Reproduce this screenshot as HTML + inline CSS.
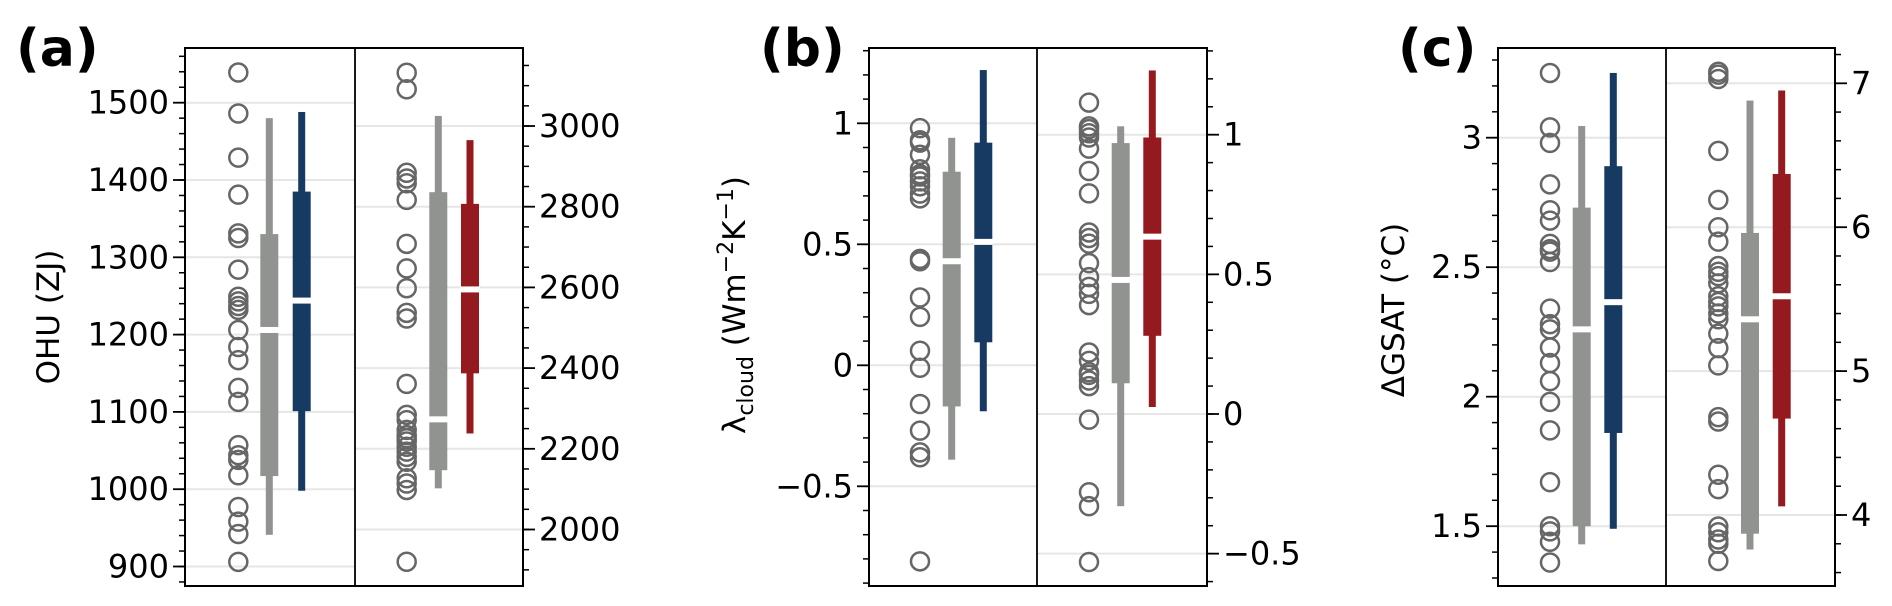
<!DOCTYPE html>
<html><head><meta charset="utf-8"><style>
html,body{margin:0;padding:0;background:#fff;}
svg{display:block;font-family:"DejaVu Sans","Liberation Sans",sans-serif;}
</style></head><body>
<svg id="chart" width="1892" height="606" viewBox="0 0 1892 606" xmlns="http://www.w3.org/2000/svg"></svg>
<script>
// ---- Panel (a): OHU ----
const aLeftCircles = [1539,1486,1429,1381,1331,1325,1284,1249,1243,1237,1232,1206,1184,1167,1131,1113,1057,1044,1038,1018,977,958,942,906];
const aLeftGray = [941,1017,1206,1330,1480];
const aLeftColor = [998,1101,1244,1385,1488];
const aRightCircles = [3132,3091,2884,2870,2858,2817,2708,2647,2598,2537,2523,2361,2284,2271,2247,2234,2226,2218,2205,2193,2180,2168,2127,2114,2098,1920];
const aRightGray = [2102,2147,2273,2836,3025];
const aRightColor = [2238,2387,2595,2807,2965];
const aLeftTicks = [900,1000,1100,1200,1300,1400,1500];
const aRightTicks = [2000,2200,2400,2600,2800,3000];
// ---- Panel (b): lambda cloud ----
const bLeftCircles = [0.98,0.93,0.92,0.87,0.81,0.79,0.78,0.76,0.74,0.71,0.69,0.44,0.43,0.28,0.20,0.06,-0.01,-0.16,-0.27,-0.36,-0.38,-0.81];
const bLeftGray = [-0.39,-0.17,0.43,0.80,0.94];
const bLeftColor = [-0.19,0.095,0.51,0.92,1.22];
const bRightCircles = [1.115,1.03,1.02,1.005,0.99,0.95,0.87,0.79,0.65,0.63,0.61,0.54,0.49,0.455,0.43,0.39,0.22,0.19,0.15,0.14,0.12,0.10,-0.02,-0.28,-0.33,-0.53];
const bRightGray = [-0.33,0.11,0.48,0.97,1.03];
const bRightColor = [0.025,0.28,0.635,0.99,1.23];
const bLeftTicks = [-0.5,0,0.5,1];
const bRightTicks = [-0.5,0,0.5,1];
// ---- Panel (c): dGSAT ----
const cLeftCircles = [3.25,3.04,2.98,2.82,2.72,2.68,2.59,2.57,2.56,2.52,2.34,2.28,2.26,2.19,2.13,2.06,1.98,1.87,1.67,1.50,1.48,1.44,1.36];
const cLeftGray = [1.43,1.50,2.26,2.73,3.045];
const cLeftColor = [1.49,1.86,2.365,2.89,3.25];
const cRightCircles = [7.08,7.06,7.03,6.53,6.19,6.00,5.90,5.73,5.69,5.66,5.61,5.52,5.48,5.45,5.40,5.36,5.26,5.16,5.04,4.68,4.65,4.28,4.18,3.92,3.88,3.83,3.80,3.68];
const cRightGray = [3.76,3.87,5.36,5.96,6.88];
const cRightColor = [4.06,4.67,5.52,6.37,6.95];
const cLeftTicks = [1.5,2,2.5,3];
const cRightTicks = [4,5,6,7];

const NS = "http://www.w3.org/2000/svg";
const svg = document.getElementById('chart');
const TOP = 48, BOT = 586;
const BLUE = '#173a63', RED = '#951a1f', GRAY = '#919391';

function mk(tag, attrs, parent) {
  const e = document.createElementNS(NS, tag);
  for (const k in attrs) e.setAttribute(k, attrs[k]);
  (parent || svg).appendChild(e);
  return e;
}
function linScale(v0, y0, v1, y1) { return v => y0 + (v - v0) * (y1 - y0) / (v1 - v0); }

function fmt(v) { return (v < 0 ? '\u2212' : '') + String(Math.abs(v)); }

function drawPanel(p) {
  const g = mk('g', {});
  
  
  const L = p.x0, M = p.x1, R = p.x2;
  // grids
  p.leftTicks.forEach(t => {
    const y = p.yl(t);
    const ln = mk('line', {x1: L, x2: M, y1: y, y2: y, stroke: '#e6e6e6', 'stroke-width': 2}, g);
    
    
  });
  p.rightTicks.forEach(t => {
    const y = p.yr(t);
    const ln = mk('line', {x1: M, x2: R, y1: y, y2: y, stroke: '#e6e6e6', 'stroke-width': 2}, g);
    
    
  });
  // left axis ticks
  const la = mk('g', {}, g);
  
  
  for (let v = p.lMinorStart; v <= p.lMinorEnd + 1e-9; v += p.lMinor) {
    const y = p.yl(v);
    if (y < TOP - 0.5 || y > BOT + 0.5) continue;
    mk('line', {x1: L - 6, x2: L, y1: y, y2: y, stroke: '#000', 'stroke-width': 1.5}, la);
  }
  p.leftTicks.forEach(t => {
    const y = p.yl(t);
    mk('line', {x1: L - 12, x2: L, y1: y, y2: y, stroke: '#000', 'stroke-width': 1.8}, la);
    const tx = mk('text', {x: L - 16, y: y + 11, 'text-anchor': 'end', 'font-size': 32, fill: '#000'}, la);
    tx.textContent = fmt(t);
  });
  // right axis ticks
  const ra = mk('g', {}, g);
  
  
  for (let v = p.rMinorStart; v <= p.rMinorEnd + 1e-9; v += p.rMinor) {
    const y = p.yr(v);
    if (y < TOP - 0.5 || y > BOT + 0.5) continue;
    mk('line', {x1: R, x2: R + 6, y1: y, y2: y, stroke: '#000', 'stroke-width': 1.5}, ra);
  }
  p.rightTicks.forEach(t => {
    const y = p.yr(t);
    mk('line', {x1: R, x2: R + 12, y1: y, y2: y, stroke: '#000', 'stroke-width': 1.8}, ra);
    const tx = mk('text', {x: R + 16, y: y + 11, 'text-anchor': 'start', 'font-size': 32, fill: '#000'}, ra);
    tx.textContent = fmt(t);
  });
  // data
  function circles(arr, cx, ys, nm) {
    const cg = mk('g', {}, g);
    
    
    arr.forEach(v => {
      const c = mk('circle', {cx: cx, cy: ys(v), r: 9, fill: 'none', stroke: '#666', 'stroke-width': 2.5}, cg);
      
      
    });
  }
  function box(st, cx, ys, col, nm) {
    const bg = mk('g', {}, g);
    
    
    mk('rect', {x: cx - 3.5, y: ys(st[4]), width: 7, height: ys(st[0]) - ys(st[4]), fill: col}, bg);
    mk('rect', {x: cx - 9, y: ys(st[3]), width: 18, height: ys(st[1]) - ys(st[3]), fill: col}, bg);
    mk('rect', {x: cx - 9.5, y: ys(st[2]) - 3, width: 19, height: 6, fill: '#fff'}, bg);
  }
  circles(p.lc, p.lx[0], p.yl, 'left-model-points');
  box(p.lg, p.lx[1], p.yl, GRAY, 'left-gray-box');
  box(p.lk, p.lx[2], p.yl, BLUE, 'left-blue-box');
  circles(p.rc, p.rx[0], p.yr, 'right-model-points');
  box(p.rg, p.rx[1], p.yr, GRAY, 'right-gray-box');
  box(p.rk, p.rx[2], p.yr, RED, 'right-red-box');
  // frame
  mk('rect', {x: L, y: TOP, width: R - L, height: BOT - TOP, fill: 'none', stroke: '#000', 'stroke-width': 2}, g);
  mk('line', {x1: M, x2: M, y1: TOP, y2: BOT, stroke: '#000', 'stroke-width': 1.8}, g);
  // labels
  const pl = mk('text', {x: p.lblX, y: 66, 'font-size': 52, 'font-weight': 'bold', fill: '#000'}, g);
  pl.textContent = p.lbl;
  
  
  const yt = mk('text', {x: 0, y: 0, 'font-size': 31, 'text-anchor': 'middle', fill: '#000', transform: `translate(${p.titleX},${p.titleY}) rotate(-90)`}, g);
  
  
  if (p.title === 'lambda') {
    const t1 = mk('tspan', {}, yt); t1.textContent = 'λ';
    const t2 = mk('tspan', {dy: 8, 'font-size': 22}, yt); t2.textContent = 'cloud';
    const t3 = mk('tspan', {dy: -8}, yt); t3.textContent = ' (Wm';
    const t4 = mk('tspan', {dy: -12, 'font-size': 22}, yt); t4.textContent = '\u22122';
    const t5 = mk('tspan', {dy: 12}, yt); t5.textContent = 'K';
    const t6 = mk('tspan', {dy: -12, 'font-size': 22}, yt); t6.textContent = '\u22121';
    const t7 = mk('tspan', {dy: 12}, yt); t7.textContent = ')';
  } else yt.textContent = p.title;
}

drawPanel({name: 'panel-a-ohu', x0: 185, x1: 355, x2: 523,
  yl: linScale(1500, 102.7, 1000, 489.2), yr: linScale(3000, 126, 2000, 529.5),
  leftTicks: aLeftTicks, rightTicks: aRightTicks,
  lMinor: 20, lMinorStart: 860, lMinorEnd: 1580, rMinor: 50, rMinorStart: 1850, rMinorEnd: 3200,
  lc: aLeftCircles, lg: aLeftGray, lk: aLeftColor, rc: aRightCircles, rg: aRightGray, rk: aRightColor,
  lx: [238.3, 269.3, 301.7], rx: [406.7, 438.3, 470],
  lbl: '(a)', lblX: 16, title: 'OHU (ZJ)', titleX: 59, titleY: 317});

drawPanel({name: 'panel-b-lambda-cloud', x0: 869, x1: 1037, x2: 1207,
  yl: linScale(1, 123.3, 0, 365.3), yr: linScale(1, 134.7, 0, 414),
  leftTicks: bLeftTicks, rightTicks: bRightTicks,
  lMinor: 0.1, lMinorStart: -1.0, lMinorEnd: 1.4, rMinor: 0.1, rMinorStart: -1.0, rMinorEnd: 1.4,
  lc: bLeftCircles, lg: bLeftGray, lk: bLeftColor, rc: bRightCircles, rg: bRightGray, rk: bRightColor,
  lx: [920, 951.7, 983.3], rx: [1089, 1120.7, 1152.3],
  lbl: '(b)', lblX: 760, title: 'lambda', titleX: 745, titleY: 305});

drawPanel({name: 'panel-c-dgsat', x0: 1498, x1: 1666, x2: 1835,
  yl: linScale(3, 137.7, 2, 396.7), yr: linScale(7, 83.3, 4, 515),
  leftTicks: cLeftTicks, rightTicks: cRightTicks,
  lMinor: 0.1, lMinorStart: 1.2, lMinorEnd: 3.5, rMinor: 0.2, rMinorStart: 3.4, rMinorEnd: 7.4,
  lc: cLeftCircles, lg: cLeftGray, lk: cLeftColor, rc: cRightCircles, rg: cRightGray, rk: cRightColor,
  lx: [1550, 1581.7, 1613.3], rx: [1718.3, 1750, 1781.7],
  lbl: '(c)', lblX: 1398, title: '\u0394GSAT (\u00b0C)', titleX: 1404, titleY: 310});
</script>
</body></html>
